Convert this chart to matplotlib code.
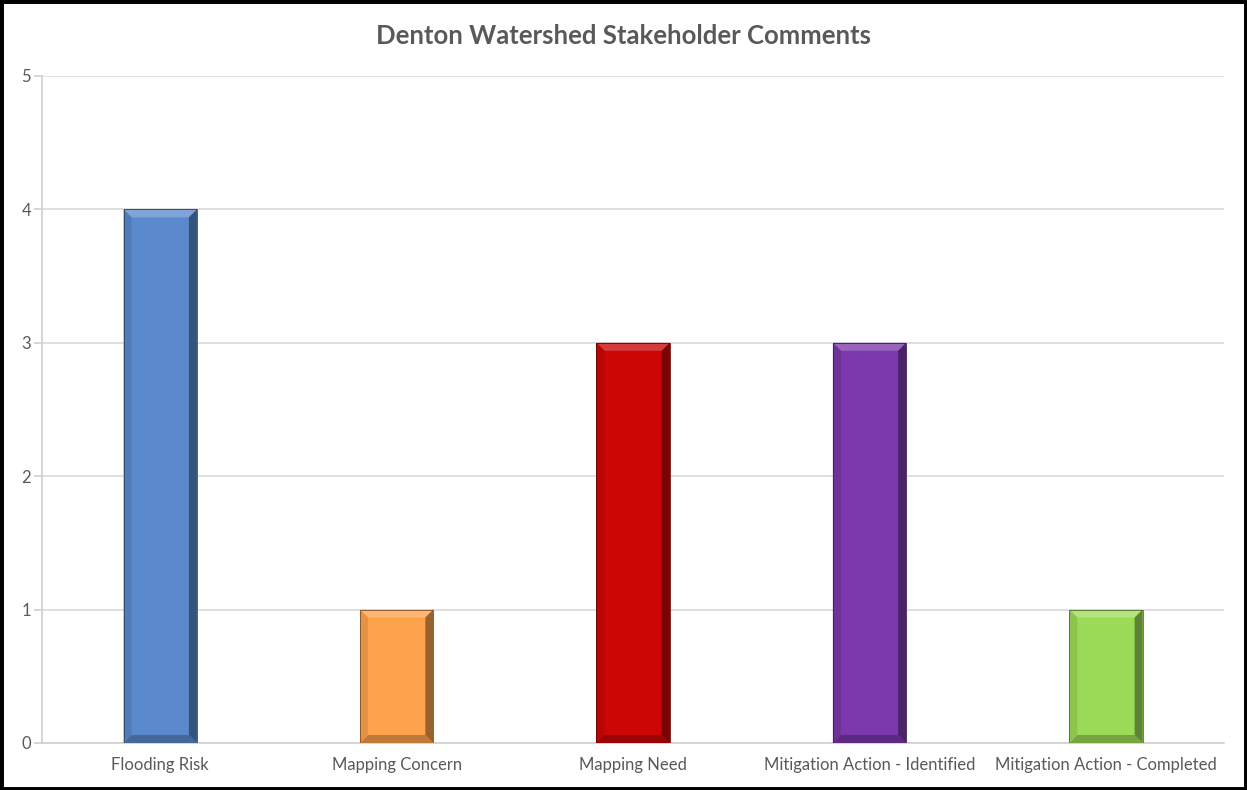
import matplotlib.pyplot as plt
from matplotlib.patches import Polygon, Rectangle
from matplotlib.colors import to_rgb
import numpy as np

categories = ['Flooding Risk', 'Mapping Concern', 'Mapping Need',
              'Mitigation Action - Identified', 'Mitigation Action - Completed']
counts = [4, 1, 3, 3, 1]
colors = ['#5A8ACD', '#FFA24C', '#CC0505', '#7B38AA', '#9CDB57']

plt.rcParams['font.family'] = ['Lato', 'DejaVu Sans']

fig = plt.figure(figsize=(12.47, 7.90), dpi=100)
ax = fig.add_axes([0.0337, 0.0595, 0.948, 0.8443])

x = np.arange(len(categories))
bars = ax.bar(x, counts, width=0.31, color=colors, zorder=3)


def shade(c, f):
    r, g, b = to_rgb(c)
    if f < 1:
        return (r * f, g * f, b * f)
    f = f - 1
    return (r + (1 - r) * f, g + (1 - g) * f, b + (1 - b) * f)


# bevel edges, in pixels converted to data units
bx = 8 / 236.4
by = 8 / 133.4
for bar, c in zip(bars, colors):
    x0, y0 = bar.get_x(), bar.get_y()
    w, h = bar.get_width(), bar.get_height()
    x1, y1 = x0 + w, y0 + h
    faces = [
        ([(x0, y1), (x1, y1), (x1 - bx, y1 - by), (x0 + bx, y1 - by)], shade(c, 1.22)),
        ([(x1, y1), (x1, y0), (x1 - bx, y0 + by), (x1 - bx, y1 - by)], shade(c, 0.6)),
        ([(x0, y0), (x1, y0), (x1 - bx, y0 + by), (x0 + bx, y0 + by)], shade(c, 0.75)),
        ([(x0, y1), (x0, y0), (x0 + bx, y0 + by), (x0 + bx, y1 - by)], shade(c, 0.9)),
    ]
    for pts, fc in faces:
        ax.add_patch(Polygon(pts, closed=True, facecolor=fc, edgecolor='none', zorder=4))
    ax.add_patch(Rectangle((x0, y0), w, h, fill=False, edgecolor=shade(c, 0.5),
                           linewidth=0.6, zorder=5))

ax.set_xlim(-0.5, len(categories) - 0.5)
ax.set_ylim(0, 5)
ax.set_yticks([0, 1, 2, 3, 4, 5])
ax.set_xticks(x)
ax.set_xticklabels(categories)
ax.grid(axis='y', color='#D9D9D9', linewidth=1.2, zorder=0)
for s in ['top', 'right']:
    ax.spines[s].set_visible(False)
ax.spines['left'].set_color('#D0D0D0')
ax.spines['bottom'].set_color('#D0D0D0')
ax.spines['left'].set_linewidth(1.2)
ax.spines['bottom'].set_linewidth(1.2)
ax.tick_params(axis='y', colors='#D0D0D0', labelcolor='#595959', length=6, width=1.2,
               labelsize=12, pad=2)
ax.tick_params(axis='x', length=0, labelcolor='#595959', labelsize=12, pad=10)

fig.text(0.5, 0.955, 'Denton Watershed Stakeholder Comments', ha='center', va='center',
         fontsize=18.5, fontweight='bold', color='#595959')

fig.patches.append(Rectangle((0, 0), 1, 1, transform=fig.transFigure, fill=False,
                             edgecolor='black', linewidth=5, zorder=10))

fig.savefig('out.png', dpi=100)
